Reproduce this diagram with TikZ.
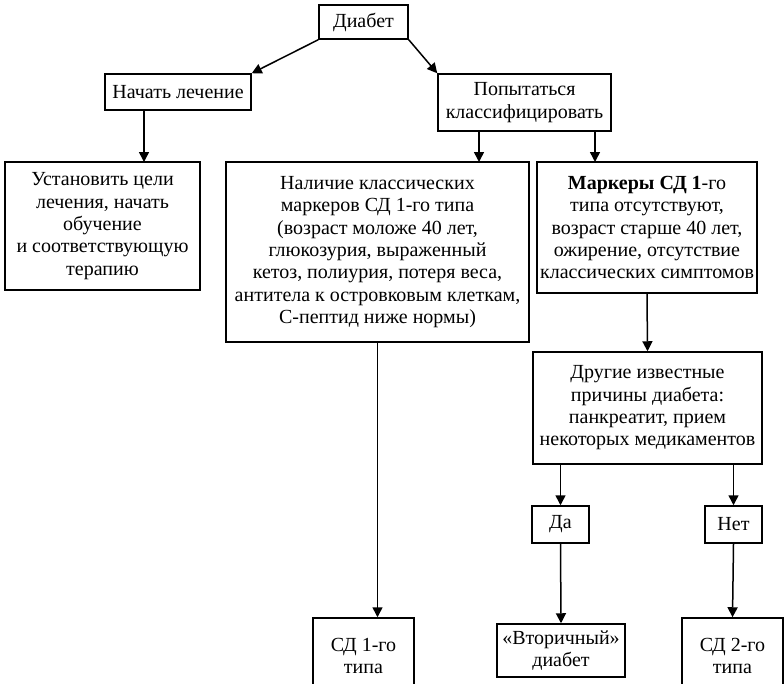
\documentclass[tikz,border=0pt]{standalone}
\usepackage{fontspec}
\setmainfont{Liberation Serif}
\usetikzlibrary{arrows.meta}
\begin{document}
\begin{tikzpicture}[x=1pt,y=-1pt,
  box/.style={draw,line width=1.5pt,inner sep=0pt,align=center,
    font=\fontsize{20}{22.3}\selectfont},
  arr/.style={line width=1.5pt,-{Triangle[length=10pt,width=10pt]}}]
\useasboundingbox (0,0) rectangle (784,683);
\clip (0,0) rectangle (784,683);
% boxes placed by their centres and sizes
\node[box,minimum width=89pt,minimum height=34pt] (diab) at (363.5,22) {Диабет};
\node[box,minimum width=146pt,minimum height=36pt] (treat) at (178,92) {Начать лечение};
\node[box,minimum width=173pt,minimum height=57pt] (class) at (524.5,102.5) {Попытаться\\классифицировать};
\node[box,minimum width=195pt,minimum height=128pt] (goals) at (102.5,226) {Установить цели\\лечения, начать\\обучение\\и соответствующую\\терапию};
\node[box,minimum width=303pt,minimum height=180pt] (t1mark) at (377.5,252) {Наличие классических\\маркеров СД 1-го типа\\(возраст моложе 40 лет,\\глюкозурия, выраженный\\кетоз, полиурия, потеря веса,\\антитела к островковым клеткам,\\С-пептид ниже нормы)};
\node[box,minimum width=220pt,minimum height=131pt] (nomark) at (647,227.5) {\textbf{Маркеры СД 1}-го\\типа отсутствуют,\\возраст старше 40 лет,\\ожирение, отсутствие\\классических симптомов};
\node[box,minimum width=229pt,minimum height=112pt] (other) at (647.5,408) {Другие известные\\причины диабета:\\панкреатит, прием\\некоторых медикаментов};
\node[box,minimum width=57pt,minimum height=37pt] (yes) at (560.5,524.5) {Да};
\node[box,minimum width=57pt,minimum height=37pt] (no) at (733.5,524.5) {Нет};
\node[box,minimum width=101pt,minimum height=76pt] (sd1) at (363.5,656) {СД 1-го\\типа};
\node[box,minimum width=128pt,minimum height=53pt] (sec) at (561,650.5) {«Вторичный»\\диабет};
\node[box,minimum width=101pt,minimum height=76pt] (sd2) at (732.5,656) {СД 2-го\\типа};
% connectors
\draw[arr] (diab.south west) -- (treat.north east);
\draw[arr] (diab.south east) -- (class.north west);
\draw[arr] (144,110) -- (144,162);
\draw[arr] (class.south) ++(-45.5,0) -- (479,162);
\draw[arr] (class.south) ++(70.5,0) -- (595,162);
\draw[arr] (t1mark.south) -- (t1mark.south |- sd1.north);
\draw[arr] (nomark.south) -- (other.north);
\draw[arr] (other.south -| yes.north) -- (yes.north);
\draw[arr] (other.south -| no.north) -- (no.north);
\draw[arr] (yes.south) -- (sec.north);
\draw[arr] (no.south) -- (sd2.north);
\end{tikzpicture}
\end{document}
